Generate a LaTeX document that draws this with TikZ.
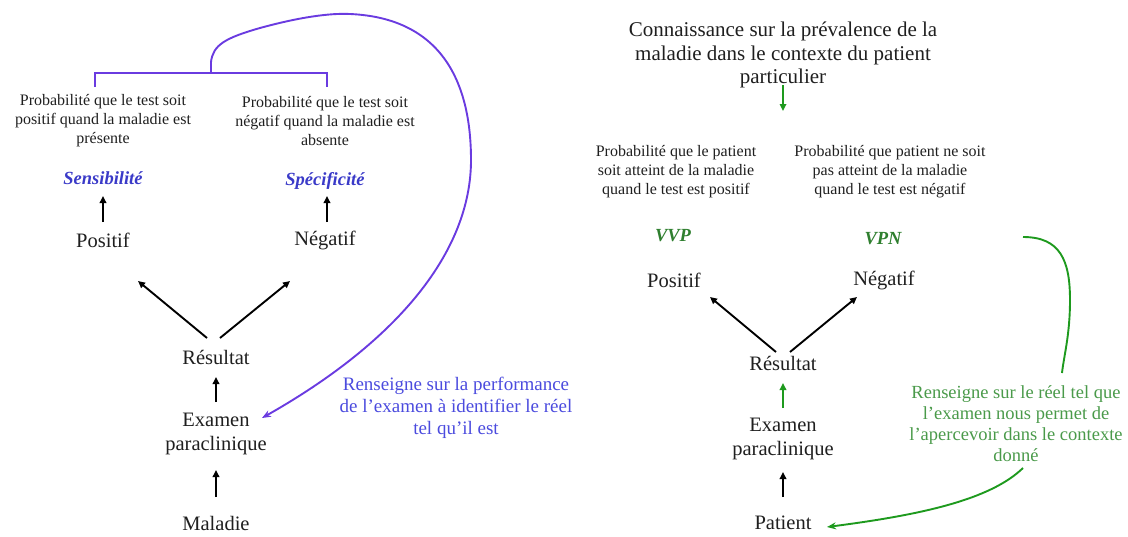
\documentclass[tikz,border=0pt]{standalone}
\usepackage{fontspec}
\setmainfont{Liberation Serif}
\usetikzlibrary{arrows.meta}

\definecolor{traitviolet}{HTML}{6A3BE0}
\definecolor{texteBleu}{HTML}{4B4BDE}
\definecolor{termeBleu}{HTML}{3A3AC8}
\definecolor{traitVert}{HTML}{1E9A1E}
\definecolor{texteVert}{HTML}{4A9A4A}
\definecolor{termeVert}{HTML}{2F7F2F}

\begin{document}
\begin{tikzpicture}[x=1pt, y=-1pt,
	grand/.style={font=\fontsize{20.5}{24.5}\selectfont, align=center, inner sep=1pt, text=black!88},
	petit/.style={font=\fontsize{16}{19}\selectfont, align=center, inner sep=1pt, text=black!88},
	terme/.style={font=\fontsize{18.5}{20}\selectfont\bfseries\itshape, inner sep=1pt},
	note/.style={font=\fontsize{19}{22}\selectfont, align=center, inner sep=1pt},
	fleche/.style={-{Triangle[length=7pt,width=6.5pt]}, line width=1.9pt},
	courbe/.style={-{Stealth[length=9pt,width=7pt]}, line width=1.9pt}]
	\useasboundingbox (0,0) rectangle (1128,536);

	% Partie gauche : performance de l'examen
	\node[petit] (probG1) at (103,121) {Probabilité que le test soit\\positif quand la maladie est\\présente};
	\node[petit] (probG2) at (325,121) {Probabilité que le test soit\\négatif quand la maladie est\\absente};
	\node[terme, text=termeBleu] (sens) at (103,178) {Sensibilité};
	\node[terme, text=termeBleu] (spec) at (325,181) {Spécificité};
	\node[grand] (posG) at (103,240) {Positif};
	\node[grand] (negG) at (325,240) {Négatif};
	\node[grand] (resG) at (216,357) {Résultat};
	\node[grand] (examG) at (216,434) {Examen\\paraclinique};
	\node[grand] (malG) at (216,523) {Maladie};
	\node[note, text=texteBleu] (noteG) at (456,408) {Renseigne sur la performance\\de l’examen à identifier le réel\\tel qu’il est};

	\draw[fleche] ([yshift=18pt]posG.center) -- ([yshift=-18pt]sens.center);
	\draw[fleche] ([xshift=2pt,yshift=18pt]negG.center) -- ([xshift=2pt,yshift=-15pt]spec.center);
	\draw[fleche] ([xshift=-9pt,yshift=19pt]resG.center) -- ([xshift=35pt,yshift=-41pt]posG.center);
	\draw[fleche] ([xshift=4pt,yshift=19pt]resG.center) -- ([xshift=-35pt,yshift=-41pt]negG.center);
	\draw[fleche] ([yshift=32pt]examG.center) -- ([yshift=-20pt]resG.center);
	\draw[fleche] ([yshift=26pt]malG.center) -- ([yshift=-36pt]examG.center);

	% Accolade et renvoi vers l'examen
	\coordinate (accolade) at (211,73);
	\draw[traitviolet, line width=1.9pt] (95,87) -- (95,73) -- (327,73) -- (327,87);
	\draw[courbe, traitviolet] (accolade) -- (211,62)
		.. controls (213,45) and (225,38) .. (260,28)
		.. controls (300,17) and (330,13) .. (350,14)
		.. controls (440,18) and (471,80) .. (471,160)
		.. controls (471,250) and (400,340) .. ([xshift=46pt,yshift=16pt]examG.center);

	% Partie droite : valeurs predictives
	\node[grand, font=\fontsize{21}{23.5}\selectfont] (prev) at (783,55) {Connaissance sur la prévalence de la\\maladie dans le contexte du patient\\particulier};
	\coordinate (prevBas) at (783,111);
	\node[petit] (probD1) at (676,172) {Probabilité que le patient\\soit atteint de la maladie\\quand le test est positif};
	\node[petit] (probD2) at (890,172) {Probabilité que patient ne soit\\pas atteint de la maladie\\quand le test est négatif};
	\node[terme, text=termeVert] (vvp) at (673,236) {VVP};
	\node[terme, text=termeVert] (vpn) at (883,239) {VPN};
	\node[grand] (posD) at (674,280) {Positif};
	\node[grand] (negD) at (884,280) {Négatif};
	\node[grand] (resD) at (783,363) {Résultat};
	\node[grand] (examD) at (783,439) {Examen\\paraclinique};
	\node[grand] (patD) at (783,523) {Patient};
	\node[note, text=texteVert, font=\fontsize{18.5}{21}\selectfont] (noteD) at (1016,424) {Renseigne sur le réel tel que\\l’examen nous permet de\\l’apercevoir dans le contexte\\donné};

	\draw[fleche, traitVert, line width=1.6pt] ([yshift=-30pt]prev.center) -- (prevBas);
	\draw[fleche] ([xshift=-7pt,yshift=11pt]resD.center) -- ([xshift=36pt,yshift=-17pt]posD.center);
	\draw[fleche] ([xshift=7pt,yshift=11pt]resD.center) -- ([xshift=-27pt,yshift=-17pt]negD.center);
	\draw[fleche, traitVert] ([yshift=31pt]examD.center) -- ([yshift=-20pt]resD.center);
	\draw[fleche] ([yshift=26pt]patD.center) -- ([yshift=-33pt]examD.center);

	% Renvois verts
	\coordinate (vpnFin) at (1023,237);
	\draw[traitVert, line width=1.9pt] (vpnFin)
		.. controls (1060,237) and (1070,260) .. (1070,300)
		.. controls (1070,335) and (1064,355) .. ([xshift=46pt,yshift=51pt]noteD.center);
	\draw[courbe, traitVert] ([xshift=7pt,yshift=-44pt]noteD.center)
		.. controls (990,500) and (920,515) .. ([xshift=44pt,yshift=-4pt]patD.center);
\end{tikzpicture}
\end{document}
